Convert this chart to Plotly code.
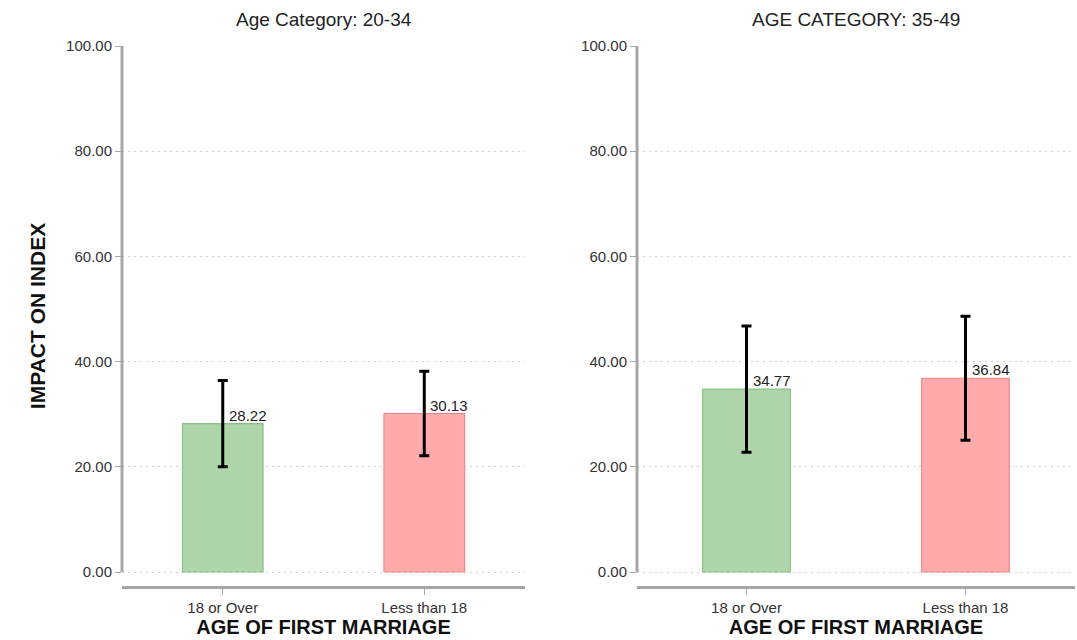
import plotly.graph_objects as go
from plotly.subplots import make_subplots

# Data
categories = ["18 or Over", "Less than 18"]
panel_titles = ["Age Category: 20-34", "AGE CATEGORY: 35-49"]
impact_20_34 = [28.22, 30.13]
error_20_34 = [8.2, 8.05]
impact_35_49 = [34.77, 36.84]
error_35_49 = [12.0, 11.8]

fill_colors = ["#aed5a9", "#ffaaab"]
line_colors = ["#88c485", "#f48888"]
font_family = "Arial, Liberation Sans, sans-serif"

fig = make_subplots(rows=1, cols=2, horizontal_spacing=0.1175)

panels = [(impact_20_34, error_20_34), (impact_35_49, error_35_49)]
for col, (vals, errs) in enumerate(panels, start=1):
    fig.add_trace(
        go.Bar(
            x=categories,
            y=vals,
            width=0.4,
            marker=dict(color=fill_colors, line=dict(color=line_colors, width=1.2)),
            error_y=dict(type="data", array=errs, visible=True, color="black",
                         thickness=3, width=5),
            showlegend=False,
            hoverinfo="x+y",
        ),
        row=1, col=col,
    )
    for c, v in zip(categories, vals):
        fig.add_annotation(
            x=c, y=v, text=f"{v:.2f}", showarrow=False,
            xanchor="left", yanchor="bottom", xshift=4, yshift=-2,
            font=dict(size=15, color="#222", family=font_family),
            xref=f"x{'' if col == 1 else col}", yref=f"y{'' if col == 1 else col}",
        )

left_dom = [0, 0.4229]
right_dom = [0.5404, 1]
for i, dom in enumerate([left_dom, right_dom], start=1):
    xa = "xaxis" if i == 1 else f"xaxis{i}"
    ya = "yaxis" if i == 1 else f"yaxis{i}"
    fig.layout[xa].update(
        domain=dom, range=[-0.5, 1.5], showline=True, linecolor="#a6a6a6",
        linewidth=3, ticks="outside", ticklen=6, tickcolor="#a6a6a6", tickwidth=1,
        showgrid=False, zeroline=False,
        tickfont=dict(size=15, color="#333", family=font_family),
        title=dict(text="<b>AGE OF FIRST MARRIAGE</b>", standoff=4,
                   font=dict(size=20, color="#111", family=font_family)),
    )
    fig.layout[ya].update(
        domain=[0, 1], range=[-2.66, 100], tickvals=[0, 20, 40, 60, 80, 100],
        tickformat=".2f", showline=False, ticks="outside", ticklen=6,
        tickcolor="#a6a6a6", tickwidth=1, showgrid=True, gridcolor="#cfcfcf",
        griddash="2px,4px", gridwidth=1, zeroline=False,
        tickfont=dict(size=15, color="#333", family=font_family),
    )
    # vertical axis line spanning the value range only
    fig.add_shape(
        type="line", xref=f"x{'' if i == 1 else i} domain", yref=f"y{'' if i == 1 else i}",
        x0=0, x1=0, y0=0, y1=100, line=dict(color="#a6a6a6", width=3), layer="above",
    )
    fig.add_annotation(
        x=(dom[0] + dom[1]) / 2, y=1, xref="paper", yref="paper",
        text=panel_titles[i - 1], showarrow=False, xanchor="center",
        yanchor="bottom", yshift=14,
        font=dict(size=19, color="#222", family=font_family),
    )

fig.layout.yaxis.title = dict(text="<b>IMPACT ON INDEX</b>", standoff=14,
                              font=dict(size=21, color="#111", family=font_family))

fig.update_layout(
    width=1077, height=640,
    margin=dict(l=122, r=2, t=46, b=54),
    plot_bgcolor="white", paper_bgcolor="white",
    font=dict(family=font_family),
)

fig.write_html("out.html")
